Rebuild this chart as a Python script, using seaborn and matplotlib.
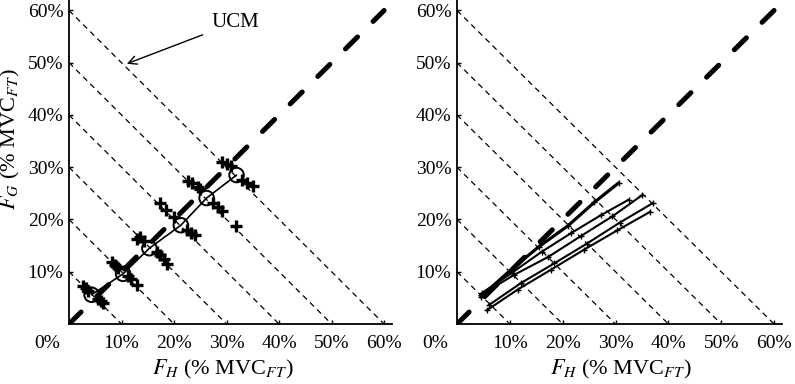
"""UCM plots: hand vs. grip force at six target levels."""

import matplotlib
matplotlib.use('Agg')  # Non-interactive backend
import matplotlib.pyplot as plt
import seaborn as sns
import pandas as pd
import numpy as np

# UCM levels (x + y = const) and the equal-share diagonal
ucm_levels = [10, 20, 30, 40, 50, 60]
diag_ends = [0, 60]

# Left panel: single subject, mean per level (circles)
mean_fh = [4.3, 10.3, 15.3, 21.3, 26.2, 31.9]
mean_fg = [5.6, 9.6, 14.5, 18.9, 24.1, 28.5]

# Left panel: individual trials (crosses)
trial_level = [1] * 6 + [2] * 6 + [3] * 7 + [4] * 6 + [5] * 8 + [6] * 6
trial_fh = [2.7, 3.2, 3.6, 5.5, 6.0, 6.5,
            8.2, 8.8, 9.4, 11.2, 11.8, 13.0,
            13.0, 13.6, 14.2, 16.8, 17.4, 18.0, 18.6,
            17.3, 18.5, 20.0, 22.4, 23.2, 24.0,
            22.7, 23.5, 24.5, 25.0, 27.4, 28.3, 29.2, 31.8,
            29.2, 30.0, 30.8, 33.0, 33.8, 35.0]
trial_fg = [7.2, 6.8, 6.4, 4.8, 4.4, 4.0,
            11.8, 11.2, 10.8, 9.2, 8.6, 7.4,
            16.2, 16.6, 15.8, 13.8, 13.2, 12.4, 11.5,
            23.2, 21.8, 20.5, 18.0, 17.5, 17.0,
            27.3, 27.0, 26.3, 25.8, 23.1, 22.4, 21.6, 18.8,
            31.0, 30.6, 30.2, 27.5, 27.0, 26.5]

# Right panel: mean lines of five subjects
subj_a_fh = [4.5, 10.0, 15.5, 21.0, 26.0, 30.6]
subj_a_fg = [5.2, 10.2, 14.8, 18.8, 23.3, 27.0]
subj_b_fh = [4.8, 10.4, 16.0, 21.6, 27.2, 32.5]
subj_b_fg = [6.0, 9.8, 13.8, 17.4, 20.8, 23.8]
subj_c_fh = [4.6, 10.8, 17.2, 23.4, 29.4, 35.1]
subj_c_fg = [5.6, 9.4, 12.8, 16.8, 20.6, 24.7]
subj_d_fh = [6.0, 12.2, 18.4, 24.6, 30.8, 37.0]
subj_d_fg = [3.6, 7.9, 11.6, 15.4, 19.4, 23.1]
subj_e_fh = [5.6, 11.5, 17.8, 24.0, 30.3, 36.6]
subj_e_fg = [2.6, 6.6, 10.4, 14.2, 17.9, 21.5]

tick_vals = [10, 20, 30, 40, 50, 60]
tick_labels = ["10%", "20%", "30%", "40%", "50%", "60%"]

sns.set_style("ticks")
plt.rcParams['font.family'] = ['Liberation Serif', 'DejaVu Serif']
plt.rcParams['mathtext.fontset'] = 'stix'
plt.rcParams['text.color'] = 'black'
plt.rcParams['axes.labelcolor'] = 'black'

fig = plt.figure(figsize=(7.95, 3.84), dpi=100)
ax_l = fig.add_axes([69 / 795, 60 / 384, 323 / 795, 324 / 384])
ax_r = fig.add_axes([457 / 795, 60 / 384, 325 / 795, 324 / 384])


def draw_background(ax):
    # thin dashed UCM lines
    for c in ucm_levels:
        ax.plot([0, c], [c, 0], color="black", lw=0.9, ls=(0, (4.5, 3.5)), zorder=1)
    # thick dashed diagonal
    ax.plot(diag_ends, diag_ends, color="black", lw=3.6, ls=(0, (3.4, 4.4)),
            dash_capstyle="round", zorder=2)


def style_axes(ax, xlabel_x):
    ax.set_xlim(0, 61.5)
    ax.set_ylim(0, 62)
    ax.set_xticks(tick_vals)
    ax.set_xticklabels(tick_labels)
    ax.set_yticks(tick_vals)
    ax.set_yticklabels(tick_labels)
    ax.tick_params(direction="in", length=3, width=1, labelsize=14, colors="black")
    ax.tick_params(axis="x", pad=8)
    ax.tick_params(axis="y", pad=4)
    for side in ["top", "right"]:
        ax.spines[side].set_visible(False)
    for side in ["left", "bottom"]:
        ax.spines[side].set_linewidth(1.3)
        ax.spines[side].set_color("black")
    ax.text(-0.068, -0.06, "0%", transform=ax.transAxes, fontsize=14,
            ha="center", va="center")
    ax.set_xlabel(r"$F_H$ (% MVC$_{FT}$)", fontsize=16)
    ax.xaxis.set_label_coords(xlabel_x, -0.105)


# Left panel
draw_background(ax_l)
trials = pd.DataFrame({"fh": trial_fh, "fg": trial_fg, "level": trial_level})
sns.scatterplot(data=trials, x="fh", y="fg", marker="+", s=80, color="black",
                linewidth=2.4, ax=ax_l, zorder=3, legend=False)
means = pd.DataFrame({"fh": mean_fh, "fg": mean_fg})
sns.lineplot(data=means, x="fh", y="fg", sort=False, color="black", lw=1.2,
             ax=ax_l, zorder=4)
sns.scatterplot(data=means, x="fh", y="fg", s=110, facecolor="none",
                edgecolor="black", linewidth=1.4, ax=ax_l, zorder=5, legend=False)
ax_l.annotate("UCM", xy=(11.0, 49.8), xytext=(31.6, 57.7), fontsize=15,
              ha="center", va="center", color="black",
              arrowprops=dict(arrowstyle="->", color="black", lw=1,
                              shrinkA=4, shrinkB=0))
style_axes(ax_l, 0.477)
ax_l.set_ylabel(r"$F_G$ (% MVC$_{FT}$)", fontsize=16)
ax_l.yaxis.set_label_coords(-0.145, 0.57)

# Right panel
draw_background(ax_r)
subjects = [
    ("A", subj_a_fh, subj_a_fg, 2.3),
    ("B", subj_b_fh, subj_b_fg, 1.5),
    ("C", subj_c_fh, subj_c_fg, 1.5),
    ("D", subj_d_fh, subj_d_fg, 1.5),
    ("E", subj_e_fh, subj_e_fg, 1.5),
]
for name, fh, fg, lw in subjects:
    df = pd.DataFrame({"fh": fh, "fg": fg})
    sns.lineplot(data=df, x="fh", y="fg", sort=False, color="black", lw=lw,
                 marker="+", markersize=5, markeredgewidth=1,
                 markeredgecolor="black", ax=ax_r, zorder=4)
style_axes(ax_r, 0.505)
ax_r.set_ylabel("")

fig.savefig("out.png", dpi=100)
plt.close(fig)
